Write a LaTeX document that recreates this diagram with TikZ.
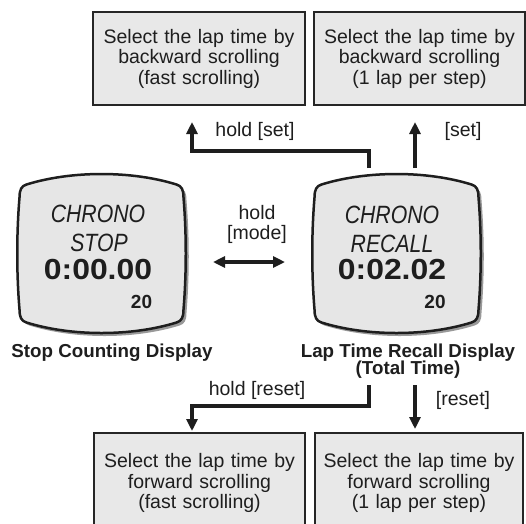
\documentclass[tikz,border=0pt]{standalone}
\usepackage{fontspec}
\setmainfont{Liberation Sans}
\newfontfamily\condfont[FakeStretch=0.85]{Liberation Sans}
\newfontfamily\widefont[FakeStretch=1.1]{Liberation Sans}
\usetikzlibrary{arrows.meta,shadows}
\definecolor{boxgray}{HTML}{E8E8E8}
\definecolor{lcdgray}{HTML}{E6E6E6}
\definecolor{ink}{HTML}{1E1E1E}
\begin{document}
\begin{tikzpicture}[x=1pt,y=-1pt,
  infobox/.style={draw=black!85, line width=1.2pt, fill=boxgray,
    text width=200pt, align=center, text=ink,
    font=\fontsize{19.5}{20.5}\selectfont,
    drop shadow={shadow xshift=1.3pt, shadow yshift=-1.3pt, fill=black!70, opacity=1}},
  lbl/.style={text=ink, font=\fontsize{19.5}{20.5}\selectfont, inner sep=0pt},
  dispcap/.style={text=ink, font=\fontsize{18.75}{17.5}\selectfont\bfseries, align=center, inner sep=0pt},
  arr/.style={line width=3.8pt, draw=ink, -{Triangle[width=11pt,length=12pt]}},
  dbl/.style={line width=3.2pt, draw=ink, {Triangle[width=11pt,length=12pt]}-{Triangle[width=11pt,length=12pt]}},
  lcdframe/.style={minimum width=167pt, minimum height=163pt, inner sep=0pt},
  lcdword/.style={text=ink, font=\fontsize{25}{25}\selectfont\condfont\itshape, inner sep=0pt},
  lcdtime/.style={text=ink, font=\fontsize{29}{29}\selectfont\widefont\bfseries, inner sep=0pt},
  lcdnum/.style={text=ink, font=\fontsize{19}{19}\selectfont\bfseries, inner sep=0pt},
  lcd/.pic={
    \draw[line width=2.5pt, draw=ink, fill=lcdgray,
      drop shadow={shadow xshift=3pt, shadow yshift=-3pt, fill=black!40, opacity=1}]
      (-75,-69) .. controls (-30,-83) and (30,-83) .. (75,-69)
      .. controls (80,-67.5) and (82,-64) .. (82,-56)
      .. controls (85,-20) and (85,20) .. (82,56)
      .. controls (82,64) and (80,67.5) .. (75,69)
      .. controls (30,83) and (-30,83) .. (-75,69)
      .. controls (-80,67.5) and (-82,64) .. (-82,56)
      .. controls (-85,20) and (-85,-20) .. (-82,-56)
      .. controls (-82,-64) and (-80,-67.5) .. (-75,-69) -- cycle;
  }
]
\useasboundingbox[fill=white] (0,0) rectangle (526,523);

% top boxes
\node[infobox, minimum width=212pt, minimum height=93pt] (tl) at (199,58.5)
  {Select the lap time by\\backward scrolling\\(fast scrolling)};
\node[infobox, minimum width=211pt, minimum height=93pt] (tr) at (419.5,58.5)
  {Select the lap time by\\backward scrolling\\(1 lap per step)};

% bottom boxes (run past the lower edge)
\node[infobox, minimum width=211pt, minimum height=100pt] (bl) at (199.5,483)
  {Select the lap time by\\forward scrolling\\(fast scrolling)};
\node[infobox, minimum width=208pt, minimum height=100pt] (br) at (419,483)
  {Select the lap time by\\forward scrolling\\(1 lap per step)};

% displays
\pic at (101.5,253.5) {lcd};
\node[lcdframe] (ds) at (101.5,253.5) {};
\node[lcdword] (ds1) at (98,214) {CHRONO};
\node[lcdword] (ds2) at (99,243) {STOP};
\node[lcdtime] (ds3) at (98,270) {0:00.00};
\node[lcdnum]  (ds4) at (141.5,302) {20};

\pic at (396.5,253.5) {lcd};
\node[lcdframe] (dr) at (396.5,253.5) {};
\node[lcdword] (dr1) at (392,215) {CHRONO};
\node[lcdword] (dr2) at (392,244) {RECALL};
\node[lcdtime] (dr3) at (392,270) {0:02.02};
\node[lcdnum]  (dr4) at (435,302) {20};

% captions
\node[dispcap] (cs) at (112,353) {Stop Counting Display};
\node[dispcap] (cr) at (408,361) {Lap Time Recall Display\\(Total Time)};

% connector end points
\coordinate (hs0) at (369,168);
\coordinate (hs1) at (192,122);
\coordinate (s0)  at (415,168);
\coordinate (s1)  at (415,122);
\coordinate (m0)  at (213,262);
\coordinate (m1)  at (285,262);
\coordinate (hr0) at (369,385);
\coordinate (hr1) at (192,431);
\coordinate (r0)  at (415,385);
\coordinate (r1)  at (415,429);

\draw[arr] (hs0) -- ++(0,-17) -| (hs1);
\draw[arr] (s0) -- (s1);
\draw[dbl] (m0) -- (m1);
\draw[arr] (hr0) -- ++(0,21) -| (hr1);
\draw[arr] (r0) -- (r1);

% connector labels
\node[lbl] (lhs) at (255,131) {hold [set]};
\node[lbl] (ls)  at (463,131) {[set]};
\node[lbl, align=center, font=\fontsize{19.5}{20}\selectfont] (lm) at (257,224) {hold\\{}[mode]};
\node[lbl] (lhr) at (257,390) {hold [reset]};
\node[lbl] (lr)  at (463,400) {[reset]};
\end{tikzpicture}
\end{document}
